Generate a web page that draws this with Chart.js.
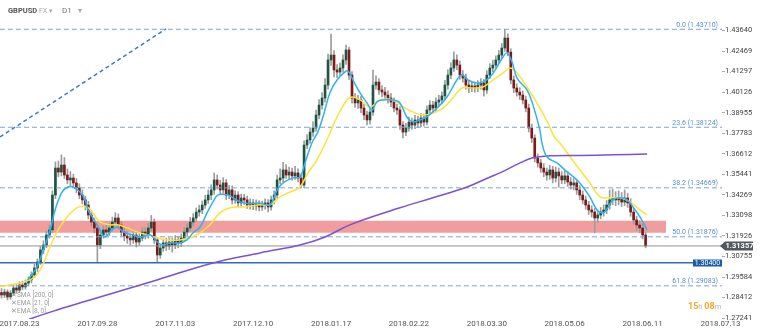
<!DOCTYPE html>
<html>
<head>
<meta charset="utf-8">
<script src="https://cdn.jsdelivr.net/npm/chart.js@4.4.1/dist/chart.umd.min.js"></script>
<style>
  html, body { margin: 0; padding: 0; background: #fff; }
  #wrap { width: 760px; height: 333px; position: relative; }
</style>
</head>
<body>
<div id="wrap"><canvas id="chart" width="760" height="333"></canvas></div>
<script>
// GBPUSD daily candles, one bar per index
const opens = [
  1.2870,1.2856,1.2873,1.2845,1.2867,1.2896,1.2884,1.2913,1.2902,1.2924,1.2942,1.2970,
  1.3010,1.3044,1.3113,1.3141,1.3198,1.3227,1.3426,1.3580,1.3557,1.3597,1.3540,1.3512,
  1.3523,1.3495,1.3466,1.3426,1.3398,1.3369,1.3312,1.3272,1.3238,1.3141,1.3198,1.3227,
  1.3215,1.3238,1.3272,1.3295,1.3255,1.3215,1.3192,1.3181,1.3170,1.3198,1.3158,1.3181,
  1.3215,1.3198,1.3238,1.3272,1.3170,1.3084,1.3124,1.3153,1.3135,1.3158,1.3141,1.3170,
  1.3153,1.3181,1.3215,1.3238,1.3272,1.3295,1.3329,1.3341,1.3369,1.3398,1.3426,1.3455,
  1.3512,1.3483,1.3455,1.3495,1.3426,1.3455,1.3398,1.3426,1.3381,1.3409,1.3398,1.3369,
  1.3381,1.3364,1.3375,1.3358,1.3369,1.3381,1.3358,1.3398,1.3426,1.3512,1.3523,1.3569,
  1.3540,1.3557,1.3535,1.3552,1.3523,1.3483,1.3711,1.3740,1.3785,1.3808,1.3882,1.3939,
  1.3979,1.4053,1.4196,1.4224,1.4139,1.4127,1.4150,1.4196,1.4253,1.4110,1.3979,1.3951,
  1.3968,1.3922,1.3882,1.3854,1.3899,1.4053,1.4070,1.4025,1.4013,1.3996,1.3979,1.3956,
  1.3922,1.3911,1.3825,1.3785,1.3808,1.3842,1.3825,1.3854,1.3837,1.3865,1.3842,1.3911,
  1.3939,1.3922,1.3956,1.3968,1.3991,1.4053,1.4110,1.4150,1.4196,1.4167,1.4110,1.4093,
  1.4053,1.4036,1.4048,1.4036,1.4053,1.4065,1.4025,1.4110,1.4150,1.4167,1.4196,1.4224,
  1.4264,1.4321,1.4241,1.4082,1.4036,1.4013,1.3996,1.3968,1.3922,1.3808,1.3751,1.3637,
  1.3609,1.3580,1.3557,1.3540,1.3569,1.3523,1.3557,1.3535,1.3512,1.3535,1.3500,1.3483,
  1.3495,1.3455,1.3426,1.3398,1.3369,1.3341,1.3329,1.3295,1.3312,1.3329,1.3341,1.3369,
  1.3398,1.3409,1.3398,1.3409,1.3386,1.3409,1.3381,1.3329,1.3284,1.3255,1.3238,1.3198
];
const highs = [
  1.2893,1.2889,1.2886,1.2881,1.2911,1.2918,1.2931,1.2935,1.2942,1.2960,1.2988,1.3031,
  1.3062,1.3135,1.3165,1.3220,1.3255,1.3450,1.3615,1.3620,1.3655,1.3640,1.3575,1.3560,
  1.3545,1.3520,1.3490,1.3455,1.3420,1.3390,1.3335,1.3295,1.3255,1.3225,1.3250,1.3255,
  1.3262,1.3300,1.3325,1.3318,1.3275,1.3240,1.3220,1.3205,1.3222,1.3215,1.3205,1.3240,
  1.3238,1.3265,1.3310,1.3290,1.3185,1.3145,1.3175,1.3180,1.3182,1.3180,1.3195,1.3192,
  1.3205,1.3240,1.3262,1.3298,1.3320,1.3352,1.3368,1.3392,1.3425,1.3455,1.3485,1.3552,
  1.3540,1.3510,1.3525,1.3515,1.3480,1.3478,1.3450,1.3445,1.3432,1.3430,1.3420,1.3405,
  1.3402,1.3398,1.3395,1.3392,1.3405,1.3400,1.3420,1.3450,1.3540,1.3575,1.3612,1.3600,
  1.3585,1.3580,1.3590,1.3575,1.3545,1.3735,1.3770,1.3810,1.3845,1.3910,1.3970,1.4010,
  1.4090,1.4230,1.4344,1.4250,1.4170,1.4180,1.4225,1.4281,1.4270,1.4130,1.4005,1.3995,
  1.3990,1.3945,1.3905,1.3925,1.4139,1.4105,1.4090,1.4050,1.4040,1.4020,1.4005,1.3980,
  1.3945,1.3930,1.3845,1.3835,1.3870,1.3865,1.3880,1.3875,1.3890,1.3888,1.3935,1.3965,
  1.3960,1.3980,1.3995,1.4015,1.4080,1.4140,1.4180,1.4242,1.4225,1.4190,1.4135,1.4115,
  1.4078,1.4072,1.4070,1.4078,1.4090,1.4085,1.4135,1.4175,1.4195,1.4220,1.4250,1.4290,
  1.4371,1.4345,1.4260,1.4105,1.4060,1.4038,1.4020,1.3990,1.3945,1.3830,1.3770,1.3660,
  1.3630,1.3605,1.3580,1.3595,1.3590,1.3585,1.3580,1.3560,1.3565,1.3560,1.3525,1.3520,
  1.3515,1.3480,1.3450,1.3420,1.3390,1.3365,1.3350,1.3340,1.3355,1.3370,1.3395,1.3455,
  1.3460,1.3445,1.3450,1.3440,1.3455,1.3435,1.3405,1.3350,1.3305,1.3280,1.3262,1.3215
];
const lows = [
  1.2838,1.2841,1.2828,1.2832,1.2855,1.2866,1.2870,1.2885,1.2889,1.2908,1.2925,1.2955,
  1.2990,1.3030,1.3092,1.3125,1.3180,1.3210,1.3405,1.3530,1.3535,1.3520,1.3490,1.3480,
  1.3470,1.3440,1.3405,1.3375,1.3340,1.3290,1.3250,1.3210,1.3039,1.3120,1.3180,1.3190,
  1.3195,1.3220,1.3255,1.3235,1.3190,1.3165,1.3150,1.3140,1.3150,1.3130,1.3140,1.3165,
  1.3175,1.3180,1.3220,1.3150,1.3045,1.3065,1.3105,1.3110,1.3115,1.3100,1.3120,1.3125,
  1.3132,1.3160,1.3195,1.3220,1.3250,1.3275,1.3305,1.3320,1.3350,1.3378,1.3400,1.3430,
  1.3460,1.3430,1.3435,1.3400,1.3405,1.3375,1.3378,1.3360,1.3362,1.3372,1.3350,1.3345,
  1.3342,1.3340,1.3335,1.3338,1.3345,1.3330,1.3340,1.3375,1.3410,1.3490,1.3500,1.3520,
  1.3515,1.3510,1.3515,1.3500,1.3467,1.3470,1.3690,1.3720,1.3760,1.3790,1.3860,1.3915,
  1.3955,1.4030,1.4165,1.4100,1.4095,1.4105,1.4125,1.4170,1.4085,1.3950,1.3925,1.3920,
  1.3895,1.3855,1.3825,1.3830,1.3880,1.4030,1.4000,1.3985,1.3970,1.3950,1.3930,1.3900,
  1.3885,1.3800,1.3752,1.3765,1.3790,1.3800,1.3805,1.3810,1.3815,1.3820,1.3825,1.3890,
  1.3895,1.3900,1.3930,1.3945,1.3975,1.4030,1.4090,1.4130,1.4140,1.4085,1.4070,1.4030,
  1.4010,1.4015,1.4012,1.4015,1.4030,1.3990,1.4005,1.4090,1.4128,1.4145,1.4175,1.4205,
  1.4245,1.4220,1.4060,1.4010,1.3990,1.3970,1.3945,1.3900,1.3785,1.3725,1.3615,1.3585,
  1.3555,1.3530,1.3510,1.3515,1.3495,1.3500,1.3470,1.3490,1.3490,1.3475,1.3460,1.3455,
  1.3430,1.3400,1.3375,1.3345,1.3315,1.3300,1.3210,1.3270,1.3290,1.3305,1.3320,1.3345,
  1.3370,1.3365,1.3370,1.3360,1.3365,1.3355,1.3305,1.3260,1.3225,1.3210,1.3175,1.3125
];
const closes = [
  1.2856,1.2873,1.2845,1.2867,1.2896,1.2884,1.2913,1.2902,1.2924,1.2942,1.2970,1.3010,
  1.3044,1.3113,1.3141,1.3198,1.3227,1.3426,1.3580,1.3557,1.3597,1.3540,1.3512,1.3523,
  1.3495,1.3466,1.3426,1.3398,1.3369,1.3312,1.3272,1.3238,1.3141,1.3198,1.3227,1.3215,
  1.3238,1.3272,1.3295,1.3255,1.3215,1.3192,1.3181,1.3170,1.3198,1.3158,1.3181,1.3215,
  1.3198,1.3238,1.3272,1.3170,1.3084,1.3124,1.3153,1.3135,1.3158,1.3141,1.3170,1.3153,
  1.3181,1.3215,1.3238,1.3272,1.3295,1.3329,1.3341,1.3369,1.3398,1.3426,1.3455,1.3512,
  1.3483,1.3455,1.3495,1.3426,1.3455,1.3398,1.3426,1.3381,1.3409,1.3398,1.3369,1.3381,
  1.3364,1.3375,1.3358,1.3369,1.3381,1.3358,1.3398,1.3426,1.3512,1.3523,1.3569,1.3540,
  1.3557,1.3535,1.3552,1.3523,1.3483,1.3711,1.3740,1.3785,1.3808,1.3882,1.3939,1.3979,
  1.4053,1.4196,1.4224,1.4139,1.4127,1.4150,1.4196,1.4253,1.4110,1.3979,1.3951,1.3968,
  1.3922,1.3882,1.3854,1.3899,1.4053,1.4070,1.4025,1.4013,1.3996,1.3979,1.3956,1.3922,
  1.3911,1.3825,1.3785,1.3808,1.3842,1.3825,1.3854,1.3837,1.3865,1.3842,1.3911,1.3939,
  1.3922,1.3956,1.3968,1.3991,1.4053,1.4110,1.4150,1.4196,1.4167,1.4110,1.4093,1.4053,
  1.4036,1.4048,1.4036,1.4053,1.4065,1.4025,1.4110,1.4150,1.4167,1.4196,1.4224,1.4264,
  1.4321,1.4241,1.4082,1.4036,1.4013,1.3996,1.3968,1.3922,1.3808,1.3751,1.3637,1.3609,
  1.3580,1.3557,1.3540,1.3569,1.3523,1.3557,1.3535,1.3512,1.3535,1.3500,1.3483,1.3495,
  1.3455,1.3426,1.3398,1.3369,1.3341,1.3329,1.3295,1.3312,1.3329,1.3341,1.3369,1.3398,
  1.3409,1.3398,1.3409,1.3386,1.3409,1.3381,1.3329,1.3284,1.3255,1.3238,1.3198,1.3136
];

// moving averages as [bar index, value]
const ema8 = [
  [8.8,1.2942],[11.8,1.3016],[16.2,1.3227],[17.9,1.3341],[20.2,1.3443],[22.2,1.3472],[23.9,1.3472],
  [26.2,1.3443],[27.9,1.3398],[28.9,1.3341],[30.5,1.3295],[32.9,1.3227],[34.5,1.3187],[36.9,1.3227],
  [38.6,1.3244],[40.6,1.3216],[43.6,1.3199],[46.2,1.3187],[49.6,1.3199],[51.9,1.3159],[53.9,1.3142],
  [56.2,1.3153],[59.6,1.3153],[61.9,1.3170],[63.9,1.3210],[66.3,1.3244],[68.6,1.3324],[70.6,1.3387],
  [72.3,1.3427],[75.3,1.3427],[77.3,1.3410],[79.6,1.3387],[83.0,1.3376],[86.3,1.3381],[89.6,1.3370],
  [92.0,1.3455],[94.0,1.3495],[97.3,1.3524],[99.6,1.3529],[101.3,1.3609],[103.6,1.3723],[105.6,1.3786],
  [107.3,1.3871],[109.6,1.4008],[112.0,1.4082],[114.7,1.4128],[115.7,1.4133],[117.3,1.4082],[119.7,1.4008],
  [122.0,1.3951],[123.7,1.3911],[125.3,1.3957],[127.3,1.3968],[130.7,1.3968],[133.0,1.3951],[135.3,1.3871],
  [137.3,1.3843],[139.7,1.3854],[142.0,1.3871],[145.4,1.3922],[148.7,1.3985],[152.0,1.4082],[153.7,1.4110],
  [155.7,1.4082],[158.7,1.4065],[160.7,1.4071],[163.1,1.4099],[165.4,1.4156],[167.4,1.4213],[168.7,1.4236],
  [170.4,1.4185],[172.1,1.4093],[175.4,1.4025],[177.4,1.3940],[179.7,1.3797],[180.4,1.3723],[182.1,1.3643],
  [185.4,1.3609],[188.8,1.3558],[192.1,1.3512],[194.1,1.3472],[196.4,1.3415],[198.8,1.3341],[200.8,1.3324],
  [202.4,1.3353],[204.1,1.3398],[206.4,1.3410],[208.8,1.3398],[210.8,1.3358],[213.1,1.3301],[215.5,1.3227]
];
const ema21 = [
  [-0.5,1.2905],[1.2,1.2908],[9.5,1.2942],[12.9,1.2999],[16.2,1.3130],[18.9,1.3227],[21.9,1.3301],
  [25.2,1.3353],[28.5,1.3358],[30.5,1.3324],[32.9,1.3273],[36.2,1.3256],[38.6,1.3256],[41.9,1.3239],
  [45.2,1.3216],[48.6,1.3199],[51.9,1.3182],[55.2,1.3170],[59.6,1.3170],[62.9,1.3182],[66.3,1.3210],
  [69.6,1.3256],[72.9,1.3324],[76.3,1.3353],[80.6,1.3358],[86.3,1.3370],[89.6,1.3370],[93.0,1.3415],
  [96.3,1.3443],[99.6,1.3472],[102.3,1.3552],[105.3,1.3626],[108.6,1.3740],[112.0,1.3871],[115.3,1.3968],
  [117.0,1.3985],[119.7,1.3968],[123.0,1.3928],[126.3,1.3968],[130.7,1.3968],[134.0,1.3928],[137.3,1.3900],
  [140.7,1.3882],[144.0,1.3894],[147.4,1.3922],[150.7,1.3980],[153.7,1.4036],[157.4,1.4036],[160.7,1.4042],
  [164.1,1.4082],[167.4,1.4122],[169.7,1.4150],[172.1,1.4122],[175.4,1.4042],[178.7,1.3951],[182.4,1.3837],
  [184.7,1.3752],[186.4,1.3723],[189.8,1.3643],[193.1,1.3569],[196.4,1.3495],[199.8,1.3415],[203.1,1.3410],
  [206.4,1.3410],[209.8,1.3387],[213.1,1.3341],[215.5,1.3313]
];
const ema200 = [
  [8.8,1.2708],[9.5,1.2719],[19.5,1.2776],[29.5,1.2828],[39.6,1.2879],[51.9,1.2942],[70.6,1.3039],
  [86.3,1.3096],[99.6,1.3141],[108.0,1.3187],[116.3,1.3256],[133.0,1.3353],[144.0,1.3410],[155.4,1.3472],
  [163.1,1.3529],[166.4,1.3552],[173.1,1.3609],[177.4,1.3638],[182.1,1.3649],[193.1,1.3652],[204.1,1.3655],
  [215.5,1.3660]
];

// drawn levels
const fibRatios = [0.0, 23.6, 38.2, 50.0, 61.8];
const fibPrices = [1.43710, 1.38124, 1.34669, 1.31876, 1.29083];
const trendLine = [[-0.5, 1.3757], [54.9, 1.4373]];
const zoneHigh = 1.3280;
const zoneLow = 1.3211;
const zoneEnd = 221.8;
const supportLevel = 1.30400;
const lastPrice = 1.31357;

// axes
const dateTickIdx = [6, 32, 58, 84, 110, 136, 162, 188, 214, 240];
const dateTickLabels = ['2017.08.23', '2017.09.28', '2017.11.03', '2017.12.10', '2018.01.17',
  '2018.02.22', '2018.03.30', '2018.05.06', '2018.06.11', '2018.07.13'];
const priceTicks = [1.43640, 1.42469, 1.41297, 1.40126, 1.38955, 1.37783, 1.36612, 1.35441,
  1.34269, 1.33098, 1.31926, 1.30755, 1.29584, 1.28412, 1.27241];

const UP = '#1f5443';
const DOWN = '#7d1a1a';

const pts = arr => arr.map(p => ({ x: p[0], y: p[1] }));
const hline = (v, x1) => [{ x: -0.5, y: v }, { x: x1, y: v }];

const wicks = opens.map((o, i) => ({ x: i, y: [lows[i], highs[i]] }));
const bodies = opens.map((o, i) => ({ x: i, y: [Math.min(o, closes[i]), Math.max(o, closes[i])] }));
const candleColor = c => closes[c.dataIndex] >= opens[c.dataIndex] ? UP : DOWN;

const levelLine = (data, color, dash, width) => ({
  type: 'line', data, borderColor: color, borderWidth: width, borderDash: dash,
  pointRadius: 0, fill: false, order: 3
});

const datasets = [
  // red zone: top line filled down to bottom line
  { type: 'line', data: hline(zoneHigh, zoneEnd), borderWidth: 0, pointRadius: 0,
    fill: '+1', backgroundColor: 'rgba(232, 92, 92, 0.6)', order: 9 },
  { type: 'line', data: hline(zoneLow, zoneEnd), borderWidth: 0, pointRadius: 0, fill: false, order: 9 },
  ...fibPrices.map(v => levelLine(hline(v, 240.5), '#7aa5d8', [5, 3], 1)),
  levelLine(pts(trendLine), '#3d7cc4', [4, 3], 1.5),
  levelLine(hline(lastPrice, 240.5), '#8d9297', [], 1),
  levelLine(hline(supportLevel, 240.5), '#2f6db5', [], 1.5),
  { type: 'bar', data: wicks, backgroundColor: '#9c9c9c', barThickness: 1, grouped: false, order: 6 },
  { type: 'bar', data: bodies, backgroundColor: candleColor, barThickness: 2, minBarLength: 1,
    grouped: false, order: 5 },
  { type: 'line', data: pts(ema200), borderColor: '#7d50d4', borderWidth: 1.5, pointRadius: 0,
    tension: 0.4, fill: false, order: 1 },
  { type: 'line', data: pts(ema21), borderColor: '#ffe23a', borderWidth: 1.5, pointRadius: 0,
    tension: 0.4, fill: false, order: 1 },
  { type: 'line', data: pts(ema8), borderColor: '#2fb2f2', borderWidth: 1.5, pointRadius: 0,
    tension: 0.4, fill: false, order: 0 }
];

// date labels, level labels, price boxes, header and legend
const overlay = {
  id: 'overlay',
  afterDatasetsDraw(chart) {
    const { ctx, scales: { x, y } } = chart;
    ctx.save();

    // time axis labels, placed on the x scale
    ctx.font = '8px Roboto';
    ctx.fillStyle = '#555';
    ctx.textAlign = 'center';
    ctx.textBaseline = 'middle';
    dateTickIdx.forEach((v, k) => ctx.fillText(dateTickLabels[k], x.getPixelForValue(v), 324));

    ctx.font = '7px Roboto';
    ctx.fillStyle = '#5a8fd2';
    ctx.textAlign = 'right';
    ctx.textBaseline = 'bottom';
    fibRatios.forEach((r, k) => {
      ctx.fillText(r.toFixed(1) + ' (' + fibPrices[k].toFixed(5) + ')', 718, y.getPixelForValue(fibPrices[k]) - 1);
    });

    // support box
    const sy = Math.round(y.getPixelForValue(supportLevel));
    ctx.fillStyle = '#1b5ca6';
    ctx.fillRect(693, sy - 3.5, 29, 7);
    ctx.fillStyle = '#fff';
    ctx.textAlign = 'center';
    ctx.textBaseline = 'middle';
    ctx.font = '7px Roboto';
    ctx.fillText(supportLevel.toFixed(5), 707.5, sy + 0.5);

    // last price tag on the axis
    const py = Math.round(y.getPixelForValue(lastPrice));
    ctx.fillStyle = '#51585e';
    ctx.beginPath();
    ctx.moveTo(720, py);
    ctx.lineTo(725, py - 4.5);
    ctx.lineTo(753, py - 4.5);
    ctx.lineTo(753, py + 4.5);
    ctx.lineTo(725, py + 4.5);
    ctx.closePath();
    ctx.fill();
    ctx.fillStyle = '#fff';
    ctx.font = 'bold 7.5px Roboto';
    ctx.textAlign = 'left';
    ctx.fillText(lastPrice.toFixed(5), 725.5, py + 0.5);

    // bar countdown
    ctx.textBaseline = 'alphabetic';
    let cx = 688;
    [['15', '#f5a623', 'bold 9px Roboto'], ['h ', '#b0b0b0', '7.5px Roboto'],
     ['08', '#f5a623', 'bold 9px Roboto'], ['m', '#b0b0b0', '7.5px Roboto']].forEach(([t, c, f]) => {
      ctx.font = f; ctx.fillStyle = c; ctx.fillText(t, cx, 309); cx += ctx.measureText(t).width;
    });

    // header
    ctx.textBaseline = 'middle';
    ctx.font = 'bold 7.5px Roboto';
    ctx.fillStyle = '#555';
    ctx.fillText('GBPUSD', 8, 11);
    ctx.font = '7px Roboto';
    ctx.fillStyle = '#aaa';
    ctx.fillText('FX', 39, 11);
    ctx.fillText('▾', 49, 11);
    ctx.fillStyle = '#777';
    ctx.font = '8px Roboto';
    ctx.fillText('D1', 62, 11);
    ctx.fillStyle = '#aaa';
    ctx.fillText('▾', 78, 11);

    // indicator legend
    ctx.font = '6.5px Roboto';
    ['SMA [200, 0]', 'EMA [21, 0]', 'EMA [8, 0]'].forEach((t, k) => {
      const ly = 295 + k * 8;
      ctx.fillStyle = '#9a9a9a';
      ctx.fillText('✕', 11, ly);
      ctx.fillText(t, 17, ly);
    });
    ctx.restore();
  }
};

new Chart(document.getElementById('chart'), {
  type: 'bar',
  data: { datasets },
  options: {
    responsive: false,
    animation: false,
    events: [],
    layout: { padding: 0, autoPadding: false },
    plugins: { legend: { display: false }, tooltip: { enabled: false } },
    scales: {
      x: {
        type: 'linear', position: 'bottom', min: -0.5, max: 240.5, offset: false,
        grid: { display: false }, border: { display: false },
        ticks: { display: false },
        afterFit: s => { s.height = 14; }
      },
      y: {
        type: 'linear', position: 'right', min: 1.271918, max: 1.453789,
        grid: { drawOnChartArea: false, drawTicks: true, tickLength: 3, color: '#aaa' },
        border: { display: false },
        afterBuildTicks: s => { s.ticks = priceTicks.map(v => ({ value: v })); },
        afterFit: s => { s.width = 38; s.paddingTop = 0; s.paddingBottom = 0; },
        ticks: {
          padding: 0, color: '#444', font: { family: 'Roboto', size: 7.5 },
          callback: v => v.toFixed(5)
        }
      }
    }
  },
  plugins: [overlay]
});
</script>
</body>
</html>
